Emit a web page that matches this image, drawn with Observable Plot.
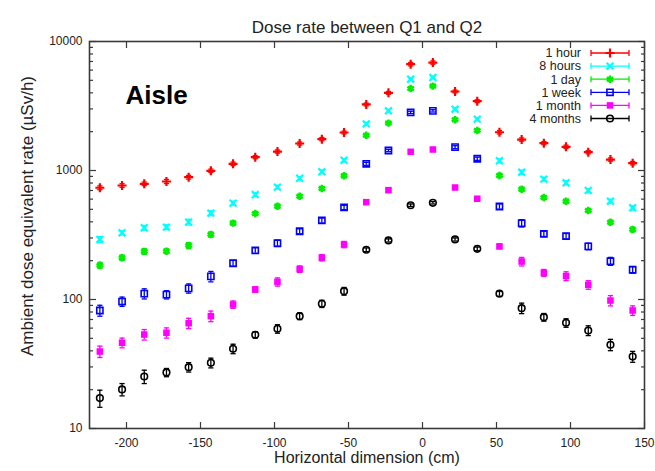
<!DOCTYPE html>
<html>
<head>
<meta charset="utf-8">
<script src="https://cdn.jsdelivr.net/npm/d3@7"></script>
<script src="https://cdn.jsdelivr.net/npm/@observablehq/plot@0.6"></script>
<style>
  body { margin: 0; background: #fff; }
  #chart { width: 655px; height: 471px; }
</style>
</head>
<body>
<div id="chart"></div>
<script>
// ---------- data ----------
const positions = [-218, -203, -188, -173, -158, -143, -128, -113, -98, -83, -68, -53, -38,
                   -23, -8, 7, 22, 37, 52, 67, 82, 97, 112, 127, 142];
const seriesNames = ["1 hour", "8 hours", "1 day", "1 week", "1 month", "4 months"];

const oneHour    = [735, 765, 789, 822, 887, 995, 1127, 1268, 1403, 1619, 1749, 1971, 3250,
                    4000, 6670, 6870, 4096, 3444, 1980, 1738, 1629, 1527, 1386, 1216, 1140];
const oneHourErr = [25, 25, 25, 30, 30, 30, 35, 35, 40, 45, 50, 50, 80,
                    100, 200, 200, 100, 90, 60, 50, 45, 45, 40, 35, 35];

const eightHours    = [292, 329, 360, 364, 398, 467, 558, 651, 743, 871, 977, 1202, 2300,
                       2903, 5100, 5260, 2985, 2500, 1189, 970, 857, 803, 700, 578, 514];
const eightHoursErr = [15, 12, 15, 15, 20, 20, 20, 20, 25, 25, 30, 35, 60,
                       70, 120, 120, 70, 60, 40, 35, 30, 30, 25, 20, 20];

const oneDay    = [184, 211, 236, 237, 262, 319, 391, 464, 529, 632, 725, 909, 1878,
                   2330, 4320, 4510, 2472, 2040, 914, 716, 618, 578, 490, 397, 349];
const oneDayErr = [10, 10, 12, 10, 14, 15, 15, 15, 20, 20, 25, 30, 50,
                   60, 100, 100, 60, 50, 35, 25, 20, 20, 15, 15, 15];

const oneWeek    = [82.2, 96.4, 111, 109, 122, 151, 191, 240, 273, 338, 410, 517, 1127,
                    1429, 2818, 2900, 1517, 1233, 526, 390, 323, 310, 258, 198, 170];
const oneWeekErr = [8, 8, 10, 8, 10, 14, 10, 12, 15, 15, 18, 20, 30,
                    30, 60, 60, 40, 35, 25, 25, 15, 15, 15, 14, 10];

const oneMonth    = [39.5, 46.2, 53.5, 55.2, 65.5, 74.3, 91.4, 119.6, 137, 172, 211, 267, 568,
                     704, 1396, 1455, 738, 604, 258, 197, 161, 152, 130, 98.2, 82.2];
const oneMonthErr = [4, 4, 5, 5, 6, 7, 6, 6, 10, 10, 12, 15, 15,
                     20, 25, 25, 20, 15, 10, 15, 10, 12, 10, 9, 7];

const fourMonths    = [17.2, 20.1, 25.3, 27.2, 29.9, 32.3, 41.5, 53.2, 59.3, 74.3, 92.7, 116, 243,
                       287, 538, 562, 292, 247, 111, 85.7, 72.9, 65.9, 57.5, 44.6, 36.1];
const fourMonthsErr = [2.6, 2.2, 3, 2, 2.5, 2.8, 3.5, 3, 4.5, 4.5, 6, 8, 8,
                       8, 12, 12, 8, 8, 5, 8, 5, 5, 5, 4.5, 3.5];

const xTicks = [-200, -150, -100, -50, 0, 50, 100, 150];
const yTicks = [10, 100, 1000, 10000];
const yMinorTicks = [20, 30, 40, 50, 60, 70, 80, 90,
                     200, 300, 400, 500, 600, 700, 800, 900,
                     2000, 3000, 4000, 5000, 6000, 7000, 8000, 9000];

const titleText = "Dose rate between Q1 and Q2";
const xLabel = "Horizontal dimension (cm)";
const yLabel = "Ambient dose equivalent rate (µSv/h)";
const panelLabel = "Aisle";

// ---------- styles ----------
const styles = [
  {color: "#ff0000", symbol: "plus",     fill: "none",    r: 3.0, sw: 2.2},
  {color: "#00ffff", symbol: "times",    fill: "none",    r: 3.2, sw: 2.2},
  {color: "#00ee00", symbol: "asterisk", fill: "none",    r: 3.5, sw: 2.6},
  {color: "#0000ff", symbol: "square",   fill: "none",    r: 3.5, sw: 1.6},
  {color: "#ff00ff", symbol: "square",   fill: "#ff00ff", r: 3.7, sw: 1},
  {color: "#000000", symbol: "circle",   fill: "none",    r: 3.3, sw: 1.6}
];

const valuesBySeries = [oneHour, eightHours, oneDay, oneWeek, oneMonth, fourMonths];
const errorsBySeries = [oneHourErr, eightHoursErr, oneDayErr, oneWeekErr, oneMonthErr, fourMonthsErr];

const rows = [];
seriesNames.forEach((s, si) => positions.forEach((x, i) => {
  rows.push({series: s, si, x, y: valuesBySeries[si][i], err: errorsBySeries[si][i]});
}));

const capSymbol = {
  draw(context) { context.moveTo(-2.6, 0); context.lineTo(2.6, 0); }
};

const frameColor = "#3a3a3a";
const textColor = "#222";

const seriesMarks = [];
seriesNames.forEach((s, si) => {
  const st = styles[si];
  const data = rows.filter(d => d.si === si);
  seriesMarks.push(
    Plot.ruleX(data, {x: "x", y1: d => d.y - d.err, y2: d => d.y + d.err, stroke: st.color, strokeWidth: 1.3}),
    Plot.dot(data, {x: "x", y: d => d.y - d.err, symbol: capSymbol, stroke: st.color, strokeWidth: 1.3}),
    Plot.dot(data, {x: "x", y: d => d.y + d.err, symbol: capSymbol, stroke: st.color, strokeWidth: 1.3}),
    Plot.dot(data, {x: "x", y: "y", symbol: st.symbol, r: st.r, stroke: st.fill === "none" ? st.color : "none",
                    fill: st.fill, strokeWidth: st.sw})
  );
});

const chart = Plot.plot({
  width: 655,
  height: 471,
  marginTop: 41,
  marginRight: 11,
  marginBottom: 43,
  marginLeft: 89,
  style: {fontFamily: "'Liberation Sans', Arial, sans-serif", fontSize: "12px", color: textColor, background: "#fff"},
  x: {domain: [-225, 150]},
  y: {type: "log", domain: [10, 10000]},
  marks: [
    ...seriesMarks,
    // tick labels
    Plot.axisY({ticks: yTicks, tickSize: 0, tickPadding: 7, tickFormat: d => String(d), label: null, fontSize: 12}),
    Plot.axisX({ticks: xTicks, tickSize: 0, tickPadding: 10, tickFormat: d => String(d), label: null, fontSize: 12}),
    // inward ticks
    Plot.axisY({anchor: "left", ticks: yTicks, tickSize: 7, dx: 7, tickFormat: () => "", label: null, stroke: frameColor, strokeWidth: 1.2}),
    Plot.axisY({anchor: "left", ticks: yMinorTicks, tickSize: 4, dx: 4, tickFormat: () => "", label: null, stroke: frameColor, strokeWidth: 1.2}),
    Plot.axisY({anchor: "right", ticks: yTicks, tickSize: 7, dx: -7, tickFormat: () => "", label: null, stroke: frameColor, strokeWidth: 1.2}),
    Plot.axisY({anchor: "right", ticks: yMinorTicks, tickSize: 4, dx: -4, tickFormat: () => "", label: null, stroke: frameColor, strokeWidth: 1.2}),
    Plot.axisX({anchor: "bottom", ticks: xTicks, tickSize: 6, dy: -6, tickFormat: () => "", label: null, stroke: frameColor, strokeWidth: 1.2}),
    Plot.axisX({anchor: "top", ticks: xTicks, tickSize: 6, dy: 6, tickFormat: () => "", label: null, stroke: frameColor, strokeWidth: 1.2}),
    Plot.frame({stroke: frameColor, strokeWidth: 1.6}),
    // texts
    Plot.text([titleText], {frameAnchor: "top", dy: -21, fontSize: 17, fill: textColor}),
    Plot.text([xLabel], {frameAnchor: "bottom", dy: 34, fontSize: 16, fill: textColor}),
    Plot.text([yLabel], {frameAnchor: "left", textAnchor: "middle", rotate: -90, dx: -62, dy: -19, fontSize: 17, fill: textColor}),
    Plot.text([panelLabel], {frameAnchor: "top-left", textAnchor: "start", dx: 36, dy: 44, fontSize: 26, fontWeight: "bold", fill: "#000"})
  ]
});

document.getElementById("chart").appendChild(chart);

// ---------- key (drawn inside the frame, top-right) ----------
const svg = d3.select(chart);
const symbolMap = {plus: d3.symbolPlus, times: d3.symbolTimes, asterisk: d3.symbolAsterisk,
                   square: d3.symbolSquare, circle: d3.symbolCircle};
const key = svg.append("g").attr("font-family", "'Liberation Sans', Arial, sans-serif").attr("font-size", 12.5);
seriesNames.forEach((name, i) => {
  const st = styles[i];
  const yy = 53 + i * 13.1;
  const g = key.append("g").attr("transform", `translate(0,${yy})`);
  g.append("text").attr("x", 581).attr("y", 0).attr("dy", "0.35em").attr("text-anchor", "end")
    .attr("fill", textColor).text(name);
  g.append("line").attr("x1", 591).attr("x2", 629).attr("y1", 0).attr("y2", 0)
    .attr("stroke", st.color).attr("stroke-width", 1.3);
  [591, 629].forEach(xx => g.append("line").attr("x1", xx).attr("x2", xx).attr("y1", -3).attr("y2", 3)
    .attr("stroke", st.color).attr("stroke-width", 1.3));
  g.append("path").attr("transform", "translate(610,0)")
    .attr("d", d3.symbol(symbolMap[st.symbol], Math.PI * st.r * st.r)())
    .attr("fill", st.fill).attr("stroke", st.fill === "none" ? st.color : "none")
    .attr("stroke-width", st.sw);
});
</script>
</body>
</html>
